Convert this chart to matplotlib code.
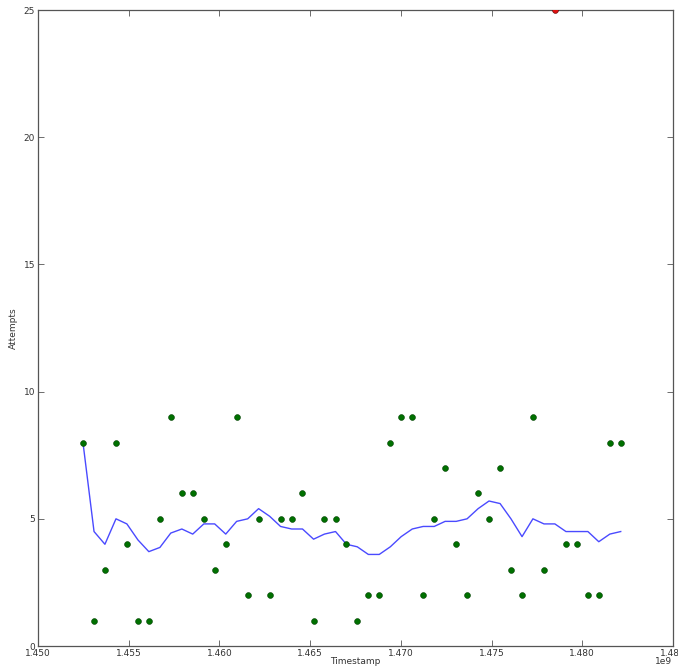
import matplotlib
matplotlib.use("Agg")
import matplotlib.pyplot as plt

# weekly timestamps (in millions of seconds)
ts_m = [1452.48, 1453.09, 1453.69, 1454.30, 1454.90, 1455.51, 1456.11, 1456.72,
        1457.32, 1457.93, 1458.53, 1459.14, 1459.74, 1460.35, 1460.95, 1461.56,
        1462.16, 1462.77, 1463.37, 1463.98, 1464.58, 1465.19, 1465.79, 1466.40,
        1467.00, 1467.60, 1468.21, 1468.81, 1469.42, 1470.02, 1470.63, 1471.23,
        1471.84, 1472.44, 1473.05, 1473.65, 1474.26, 1474.86, 1475.47, 1476.07,
        1476.68, 1477.28, 1477.89, 1478.49, 1479.10, 1479.70, 1480.31, 1480.91,
        1481.52, 1482.12]
# attempts per week (None = outlier slot, drawn in red)
attempts = [8, 1, 3, 8, 4, 1, 1, 5, 9, 6, 6, 5, 3, 4, 9, 2, 5, 2, 5, 5,
            6, 1, 5, 5, 4, 1, 2, 2, 8, 9, 9, 2, 5, 7, 4, 2, 6, 5, 7, 3,
            2, 9, 3, None, 4, 4, 2, 2, 8, 8]
outlier_ts = [1478.49]
outlier_val = [25]
# rolling mean line
avg = [8.0, 4.5, 4.0, 5.0, 4.8, 4.17, 3.71, 3.875, 4.44, 4.6,
       4.4, 4.8, 4.8, 4.4, 4.9, 5.0, 5.4, 5.1, 4.7, 4.6,
       4.6, 4.2, 4.4, 4.5, 4.0, 3.9, 3.6, 3.6, 3.9, 4.3,
       4.6, 4.7, 4.7, 4.9, 4.9, 5.0, 5.4, 5.7, 5.6, 5.0,
       4.3, 5.0, 4.8, 4.8, 4.5, 4.5, 4.5, 4.1, 4.4, 4.5]

ts = [t * 1e6 for t in ts_m]
gx = [t for t, a in zip(ts, attempts) if a is not None]
gy = [a for a in attempts if a is not None]

TXT = "#333333"
fig = plt.figure(figsize=(6.78, 6.68), dpi=100, facecolor="white")
ax = fig.add_axes([0.0560, 0.0329, 0.9366, 0.9521])

ax.plot(ts, avg, color="#4a4aff", linewidth=1.0, zorder=2)
ax.plot(gx, gy, "o", color="#007000", markersize=4.2, markeredgecolor="#004000",
        markeredgewidth=0.4, linestyle="none", zorder=3)
ax.plot([t * 1e6 for t in outlier_ts], outlier_val, "o", color="#dd1111",
        markersize=4.2, markeredgecolor="#550000", markeredgewidth=0.4,
        linestyle="none", zorder=3)

ax.set_xlim(1.450e9, 1.485e9)
ax.set_ylim(0, 25)
ax.set_xticks([1.450e9, 1.455e9, 1.460e9, 1.465e9, 1.470e9, 1.475e9, 1.480e9, 1.485e9])
ax.set_xticklabels(["1.450", "1.455", "1.460", "1.465", "1.470", "1.475", "1.480", "1.485"])
ax.set_yticks([0, 5, 10, 15, 20, 25])

ax.tick_params(direction="in", length=4, width=0.6, colors="#555555",
               labelcolor=TXT, labelsize=6.5, top=True, right=True, pad=2)
for spine in ax.spines.values():
    spine.set_edgecolor("#555555")
    spine.set_linewidth(0.9)

ax.set_xlabel("Timestamp", fontsize=6.5, color=TXT)
ax.xaxis.set_label_coords(0.5, -0.018)
ax.set_ylabel("Attempts", fontsize=6.5, color=TXT, labelpad=4)
fig.text(664 / 678, 1 - 661 / 668, "1e9", fontsize=6.5, color=TXT,
         ha="center", va="center")

fig.savefig("out.png", dpi=100, facecolor="white")
